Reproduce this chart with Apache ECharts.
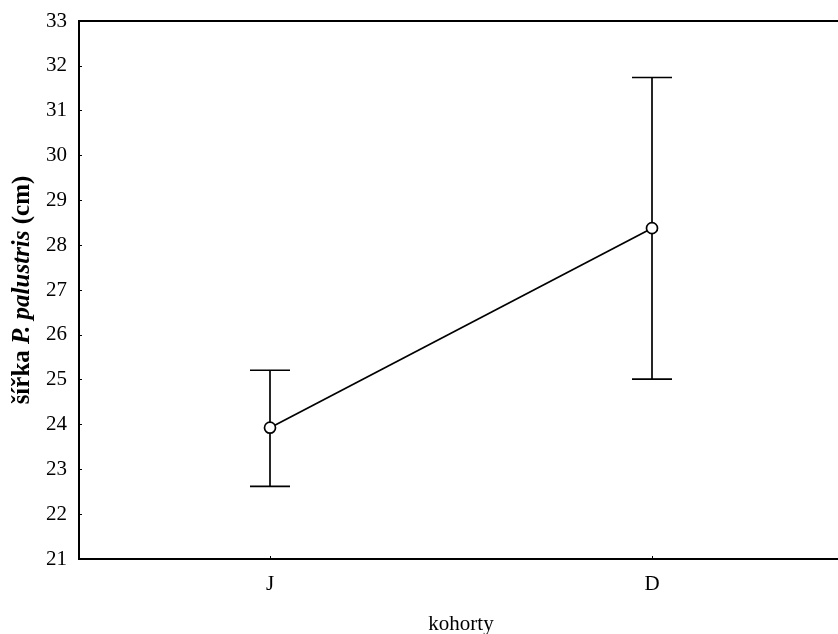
<!DOCTYPE html>
<html>
<head>
<meta charset="utf-8">
<script src="https://cdn.jsdelivr.net/npm/echarts@6/dist/echarts.min.js"></script>
<style>
  html, body { margin: 0; padding: 0; background: #fff; overflow: hidden; }
  #chart { width: 838px; height: 634px; }
</style>
</head>
<body>
<div id="chart"></div>
<script>
// Cohorts and the mean width with its interval bounds
const categories = ['J', 'D'];
const meanValues = [23.93, 28.38];
const lowerValues = [22.62, 25.01];
const upperValues = [25.21, 31.74];
const yTicks = [21, 22, 23, 24, 25, 26, 27, 28, 29, 30, 31, 32, 33];

const font = 'Liberation Serif';
const chart = echarts.init(document.getElementById('chart'));

const errorData = categories.map((c, i) => [i, lowerValues[i], upperValues[i]]);

chart.setOption({
  backgroundColor: '#fff',
  animation: false,
  grid: {
    left: 79, top: 21, width: 764, height: 538,
    outerBoundsMode: 'none',
    containLabel: false,
    show: true, borderColor: '#000', borderWidth: 2, backgroundColor: 'transparent'
  },
  xAxis: {
    type: 'category',
    data: categories,
    boundaryGap: true,
    name: 'kohorty',
    nameLocation: 'middle',
    nameGap: 55,
    nameTextStyle: { fontFamily: font, fontSize: 21, color: '#000' },
    axisLine: { lineStyle: { color: '#000', width: 2 } },
    axisTick: { show: true, inside: true, alignWithLabel: true, length: 3, lineStyle: { color: '#000', width: 1 } },
    axisLabel: { fontFamily: font, fontSize: 21, color: '#000', margin: 15 },
    splitLine: { show: false }
  },
  yAxis: {
    type: 'value',
    min: yTicks[0],
    max: yTicks[yTicks.length - 1],
    interval: 1,
    name: '{b|šířka }{bi|P. palustris}{b| (cm)}',
    nameLocation: 'middle',
    nameGap: 42,
    nameRotate: 90,
    nameTextStyle: {
      rich: {
        b: { fontFamily: font, fontSize: 25, fontWeight: 'bold', color: '#000' },
        bi: { fontFamily: font, fontSize: 25, fontWeight: 'bold', fontStyle: 'italic', color: '#000' }
      }
    },
    axisLine: { show: true, lineStyle: { color: '#000', width: 2 } },
    axisTick: { show: true, inside: true, length: 3, lineStyle: { color: '#000', width: 1 } },
    axisLabel: { fontFamily: font, fontSize: 21, color: '#000', margin: 12 },
    splitLine: { show: false }
  },
  series: [
    {
      type: 'custom',
      z: 2,
      renderItem: function (params, api) {
        const x = api.value(0);
        const lo = api.coord([x, api.value(1)]);
        const hi = api.coord([x, api.value(2)]);
        const hw = 20;
        const style = { stroke: '#000', lineWidth: 1.7, fill: null };
        return {
          type: 'group',
          children: [
            { type: 'line', shape: { x1: lo[0], y1: lo[1], x2: hi[0], y2: hi[1] }, style: style },
            { type: 'line', shape: { x1: lo[0] - hw, y1: lo[1], x2: lo[0] + hw, y2: lo[1] }, style: style },
            { type: 'line', shape: { x1: hi[0] - hw, y1: hi[1], x2: hi[0] + hw, y2: hi[1] }, style: style }
          ]
        };
      },
      encode: { x: 0, y: [1, 2] },
      data: errorData
    },
    {
      type: 'line',
      z: 3,
      data: meanValues,
      symbol: 'circle',
      symbolSize: 11,
      lineStyle: { color: '#000', width: 1.7 },
      itemStyle: { color: '#fff', borderColor: '#000', borderWidth: 1.7 }
    }
  ]
});
</script>
</body>
</html>
